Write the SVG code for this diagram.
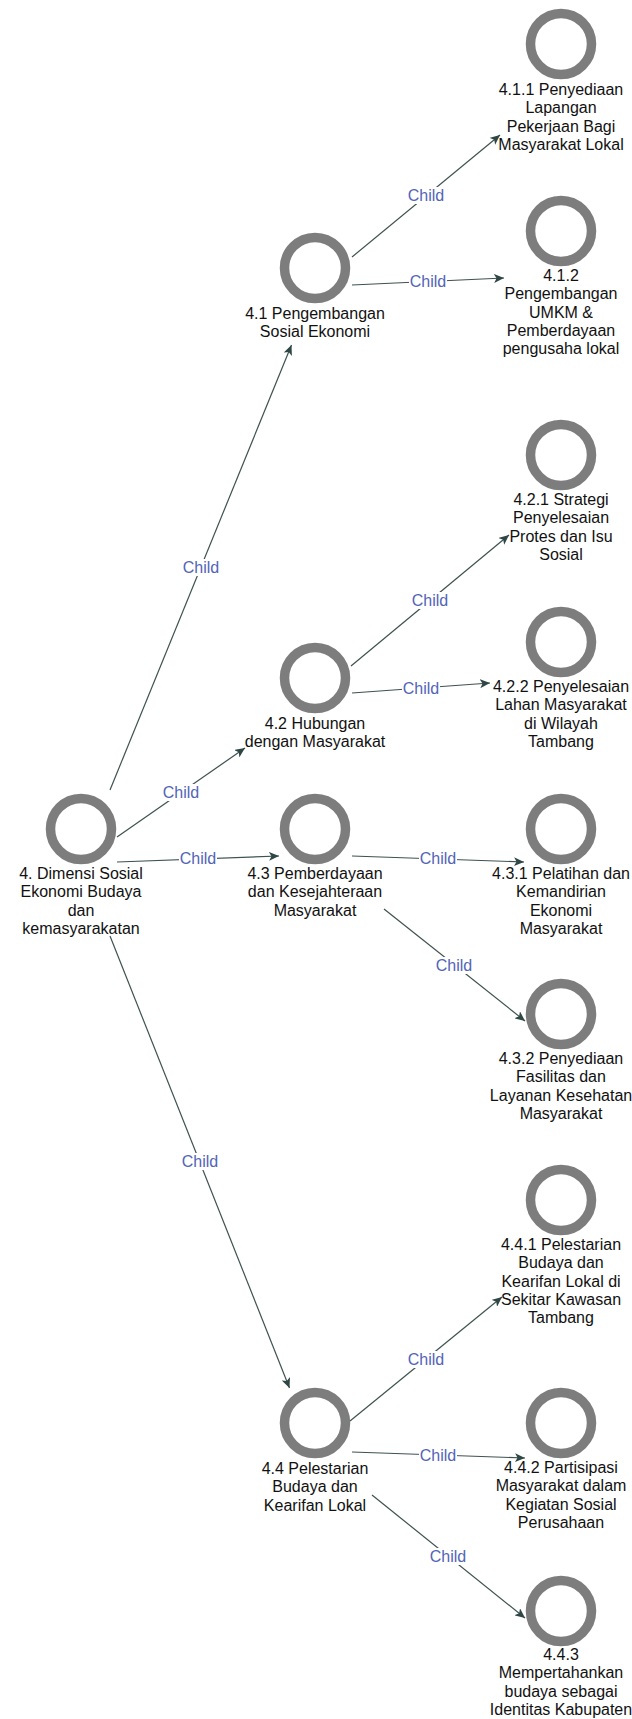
<svg xmlns="http://www.w3.org/2000/svg" width="632" height="1719" viewBox="0 0 632 1719">
<style>
.ring{fill:none;stroke:#7d7d7d;stroke-width:9.5}
.lbl{font-family:"Liberation Sans",Arial,sans-serif;font-size:16px;fill:#111;text-anchor:middle}
.edge{stroke:#3e524f;stroke-width:1.2;fill:none;marker-end:url(#arr)}
.el{font-family:"Liberation Sans",Arial,sans-serif;font-size:16px;fill:#5264b8;text-anchor:middle}
.elbg{fill:#fff}
</style>
<defs>
<marker id="arr" markerUnits="userSpaceOnUse" markerWidth="11" markerHeight="9" refX="10" refY="4.5" orient="auto">
<path d="M0,0 L10,4.5 L0,9 L2.5,4.5 Z" fill="#2e4744"/>
</marker>
</defs>
<rect width="632" height="1719" fill="#fff"/>
<g id="connectors">
<line class="edge" x1="110" y1="790" x2="291.5" y2="345"/>
<line class="edge" x1="117" y1="837" x2="245" y2="748"/>
<line class="edge" x1="117" y1="862" x2="279" y2="856"/>
<line class="edge" x1="110" y1="936" x2="289.5" y2="1388"/>
<line class="edge" x1="352" y1="257" x2="500" y2="135"/>
<line class="edge" x1="352" y1="285" x2="504" y2="278"/>
<line class="edge" x1="351" y1="666" x2="509" y2="535"/>
<line class="edge" x1="352" y1="693" x2="490" y2="683"/>
<line class="edge" x1="352" y1="856" x2="524" y2="862"/>
<line class="edge" x1="384" y1="909" x2="525" y2="1021"/>
<line class="edge" x1="350" y1="1421" x2="502" y2="1297"/>
<line class="edge" x1="352" y1="1452" x2="525" y2="1458"/>
<line class="edge" x1="372" y1="1495" x2="525" y2="1618"/>
<g id="edge-labels">
<rect class="elbg" x="182" y="559" width="38" height="17"/><text class="el" x="201" y="573">Child</text>
<rect class="elbg" x="162" y="784" width="38" height="17"/><text class="el" x="181" y="798">Child</text>
<rect class="elbg" x="179" y="850" width="38" height="17"/><text class="el" x="198" y="864">Child</text>
<rect class="elbg" x="181" y="1153" width="38" height="17"/><text class="el" x="200" y="1167">Child</text>
<rect class="elbg" x="407" y="187" width="38" height="17"/><text class="el" x="426" y="201">Child</text>
<rect class="elbg" x="409" y="273" width="38" height="17"/><text class="el" x="428" y="287">Child</text>
<rect class="elbg" x="411" y="592" width="38" height="17"/><text class="el" x="430" y="606">Child</text>
<rect class="elbg" x="402" y="680" width="38" height="17"/><text class="el" x="421" y="694">Child</text>
<rect class="elbg" x="419" y="850" width="38" height="17"/><text class="el" x="438" y="864">Child</text>
<rect class="elbg" x="435" y="957" width="38" height="17"/><text class="el" x="454" y="971">Child</text>
<rect class="elbg" x="407" y="1351" width="38" height="17"/><text class="el" x="426" y="1365">Child</text>
<rect class="elbg" x="419" y="1447" width="38" height="17"/><text class="el" x="438" y="1461">Child</text>
<rect class="elbg" x="429" y="1548" width="38" height="17"/><text class="el" x="448" y="1562">Child</text>
</g>
</g>
<g id="n4">
<circle class="ring" cx="81" cy="829" r="30.5"/>
<text class="lbl" x="81" y="879">4. Dimensi Sosial</text>
<text class="lbl" x="81" y="897.3">Ekonomi Budaya</text>
<text class="lbl" x="81" y="915.6">dan</text>
<text class="lbl" x="81" y="933.9">kemasyarakatan</text>
</g>
<g id="n4-1">
<circle class="ring" cx="315" cy="268" r="30.5"/>
<text class="lbl" x="315" y="319">4.1 Pengembangan</text>
<text class="lbl" x="315" y="337.3">Sosial Ekonomi</text>
</g>
<g id="n4-2">
<circle class="ring" cx="315" cy="678" r="30.5"/>
<text class="lbl" x="315" y="729">4.2 Hubungan</text>
<text class="lbl" x="315" y="747.3">dengan Masyarakat</text>
</g>
<g id="n4-3">
<circle class="ring" cx="315" cy="829" r="30.5"/>
<text class="lbl" x="315" y="879">4.3 Pemberdayaan</text>
<text class="lbl" x="315" y="897.3">dan Kesejahteraan</text>
<text class="lbl" x="315" y="915.6">Masyarakat</text>
</g>
<g id="n4-4">
<circle class="ring" cx="315" cy="1423" r="30.5"/>
<text class="lbl" x="315" y="1474">4.4 Pelestarian</text>
<text class="lbl" x="315" y="1492.3">Budaya dan</text>
<text class="lbl" x="315" y="1510.6">Kearifan Lokal</text>
</g>
<g id="n4-1-1">
<circle class="ring" cx="561" cy="44" r="30.5"/>
<text class="lbl" x="561" y="95">4.1.1 Penyediaan</text>
<text class="lbl" x="561" y="113.3">Lapangan</text>
<text class="lbl" x="561" y="131.6">Pekerjaan Bagi</text>
<text class="lbl" x="561" y="149.9">Masyarakat Lokal</text>
</g>
<g id="n4-1-2">
<circle class="ring" cx="561" cy="231" r="30.5"/>
<text class="lbl" x="561" y="281">4.1.2</text>
<text class="lbl" x="561" y="299.3">Pengembangan</text>
<text class="lbl" x="561" y="317.6">UMKM &amp;</text>
<text class="lbl" x="561" y="335.9">Pemberdayaan</text>
<text class="lbl" x="561" y="354.2">pengusaha lokal</text>
</g>
<g id="n4-2-1">
<circle class="ring" cx="561" cy="455" r="30.5"/>
<text class="lbl" x="561" y="505">4.2.1 Strategi</text>
<text class="lbl" x="561" y="523.3">Penyelesaian</text>
<text class="lbl" x="561" y="541.6">Protes dan Isu</text>
<text class="lbl" x="561" y="559.9">Sosial</text>
</g>
<g id="n4-2-2">
<circle class="ring" cx="561" cy="642" r="30.5"/>
<text class="lbl" x="561" y="692">4.2.2 Penyelesaian</text>
<text class="lbl" x="561" y="710.3">Lahan Masyarakat</text>
<text class="lbl" x="561" y="728.6">di Wilayah</text>
<text class="lbl" x="561" y="746.9">Tambang</text>
</g>
<g id="n4-3-1">
<circle class="ring" cx="561" cy="829" r="30.5"/>
<text class="lbl" x="561" y="879">4.3.1 Pelatihan dan</text>
<text class="lbl" x="561" y="897.3">Kemandirian</text>
<text class="lbl" x="561" y="915.6">Ekonomi</text>
<text class="lbl" x="561" y="933.9">Masyarakat</text>
</g>
<g id="n4-3-2">
<circle class="ring" cx="561" cy="1014" r="30.5"/>
<text class="lbl" x="561" y="1064">4.3.2 Penyediaan</text>
<text class="lbl" x="561" y="1082.3">Fasilitas dan</text>
<text class="lbl" x="561" y="1100.6">Layanan Kesehatan</text>
<text class="lbl" x="561" y="1118.9">Masyarakat</text>
</g>
<g id="n4-4-1">
<circle class="ring" cx="561" cy="1200" r="30.5"/>
<text class="lbl" x="561" y="1250">4.4.1 Pelestarian</text>
<text class="lbl" x="561" y="1268.3">Budaya dan</text>
<text class="lbl" x="561" y="1286.6">Kearifan Lokal di</text>
<text class="lbl" x="561" y="1304.9">Sekitar Kawasan</text>
<text class="lbl" x="561" y="1323.2">Tambang</text>
</g>
<g id="n4-4-2">
<circle class="ring" cx="561" cy="1423" r="30.5"/>
<text class="lbl" x="561" y="1473">4.4.2 Partisipasi</text>
<text class="lbl" x="561" y="1491.3">Masyarakat dalam</text>
<text class="lbl" x="561" y="1509.6">Kegiatan Sosial</text>
<text class="lbl" x="561" y="1527.9">Perusahaan</text>
</g>
<g id="n4-4-3">
<circle class="ring" cx="561" cy="1611" r="30.5"/>
<text class="lbl" x="561" y="1660">4.4.3</text>
<text class="lbl" x="561" y="1678.3">Mempertahankan</text>
<text class="lbl" x="561" y="1696.6">budaya sebagai</text>
<text class="lbl" x="561" y="1714.9">Identitas Kabupaten</text>
</g>
</svg>
